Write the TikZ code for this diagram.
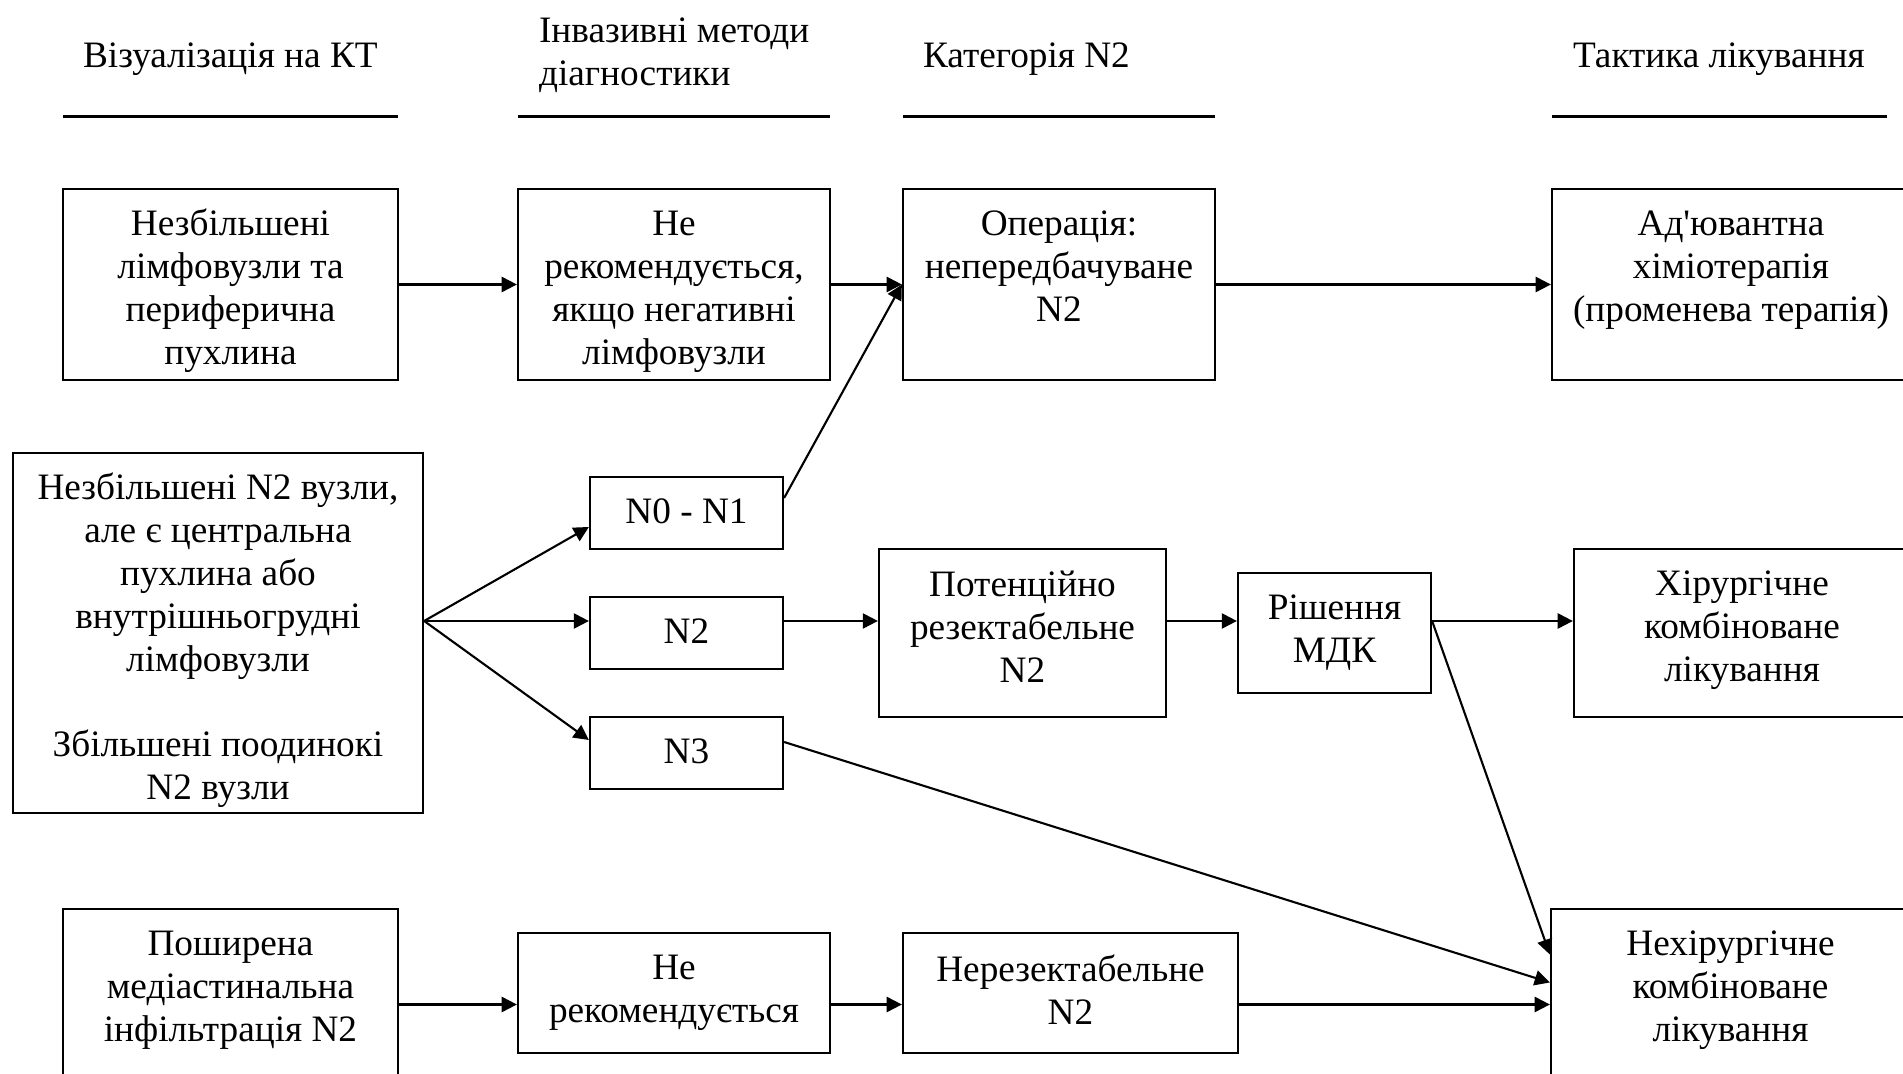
\documentclass[tikz,border=0pt]{standalone}
\usepackage{fontspec}
\setmainfont{Liberation Serif}
\usetikzlibrary{calc,arrows.meta}

\begin{document}
\begin{tikzpicture}[x=0.01cm,y=-0.01cm,line width=0.6pt,
  every node/.style={font=\fontsize{10.6}{12.2}\selectfont},
  box/.style={draw,rectangle,inner sep=0pt},
  txt/.style={align=center,anchor=north,inner sep=0pt},
  head/.style={anchor=west,inner sep=0pt},
  >={Triangle[length=4.3pt,width=4.3pt]}]
\useasboundingbox (0,0) rectangle (1903,1074);

% headings
\draw node[head] (H1) at (82,59) {Візуалізація на КТ};
\draw (63,116.5) -- (398,116.5);
\draw node[head,align=left] (H2) at (538,55.5) {Інвазивні методи\\діагностики};
\draw (518,116.5) -- (830,116.5);
\draw node[head] (H3) at (922,59) {Категорія N2};
\draw (903,116.5) -- (1215,116.5);
\draw node[head] (H4) at (1572,59) {Тактика лікування};
\draw (1552,116.5) -- (1887,116.5);

% top row
\draw node[box,minimum width=3.35cm,minimum height=1.91cm] (A1) at (230.5,284.5) {};
\draw node[txt] (A1t) at ($ (A1.north)+(0,20)$) {Незбільшені\\лімфовузли та\\периферична\\пухлина};
\draw node[box,minimum width=3.12cm,minimum height=1.91cm] (B1) at (674,284.5) {};
\draw node[txt] (B1t) at ($ (B1.north)+(0,22)$) {Не\\рекомендується,\\якщо негативні\\лімфовузли};
\draw node[box,minimum width=3.12cm,minimum height=1.91cm] (C1) at (1059,284.5) {};
\draw node[txt] (C1t) at ($ (C1.north)+(0,22)$) {Операція:\\непередбачуване\\N2};
\draw node[box,minimum width=3.58cm,minimum height=1.91cm] (D1) at (1731,284.5) {};
\draw node[txt] (D1t) at ($ (D1.north)+(0,22)$) {Ад\textquotesingle ювантна\\хіміотерапія\\(променева терапія)};

% middle row
\draw node[box,minimum width=4.10cm,minimum height=3.60cm] (A2) at (218,633) {};
\draw node[txt] (A2t) at ($ (A2.north)+(0,20)$) {Незбільшені N2 вузли,\\але є центральна\\пухлина або\\внутрішньогрудні\\лімфовузли\\[12.2pt]Збільшені поодинокі\\N2 вузли};
\draw node[box,minimum width=1.93cm,minimum height=0.72cm] (N01) at (686.5,513) {};
\draw node[txt] (N01t) at ($ (N01.north)+(0,22)$) {N0 - N1};
\draw node[box,minimum width=1.93cm,minimum height=0.72cm] (N2) at (686.5,633) {};
\draw node[txt] (N2t) at ($ (N2.north)+(0,22)$) {N2};
\draw node[box,minimum width=1.93cm,minimum height=0.72cm] (N3) at (686.5,753) {};
\draw node[txt] (N3t) at ($ (N3.north)+(0,22)$) {N3};
\draw node[box,minimum width=2.87cm,minimum height=1.68cm] (P) at (1022.5,633) {};
\draw node[txt] (Pt) at ($ (P.north)+(0,22)$) {Потенційно\\резектабельне\\N2};
\draw node[box,minimum width=1.93cm,minimum height=1.20cm] (MDK) at (1334.5,633) {};
\draw node[txt] (MDKt) at ($ (MDK.north)+(0,22)$) {Рішення\\МДК};
\draw node[box,minimum width=3.36cm,minimum height=1.68cm] (S) at (1742,633) {};
\draw node[txt] (St) at ($ (S.north)+(0,22)$) {Хірургічне\\комбіноване\\лікування};

% bottom row
\draw node[box,minimum width=3.35cm,minimum height=1.91cm] (A3) at (230.5,1004.5) {};
\draw node[txt] (A3t) at ($ (A3.north)+(0,22)$) {Поширена\\медіастинальна\\інфільтрація N2};
\draw node[box,minimum width=3.12cm,minimum height=1.20cm] (B3) at (674,993) {};
\draw node[txt] (B3t) at ($ (B3.north)+(0,22)$) {Не\\рекомендується};
\draw node[box,minimum width=3.35cm,minimum height=1.20cm] (C3) at (1070.5,993) {};
\draw node[txt] (C3t) at ($ (C3.north)+(0,22)$) {Нерезектабельне\\N2};
\draw node[box,minimum width=3.59cm,minimum height=1.91cm] (D3) at (1730.5,1004.5) {};
\draw node[txt] (D3t) at ($ (D3.north)+(0,22)$) {Нехірургічне\\комбіноване\\лікування};

% arrows
\coordinate (fan) at ($ (A2.east)-(0,12)$);
\draw[->] (A1.east) -- (B1.west);
\draw[->] (B1.east) -- (C1.west);
\draw[->] (C1.east) -- (D1.west);
\draw[->] ($ (N01.east)-(0,15)$) -- (C1.west);
\draw[->] (fan) -- ($ (N01.west)+(0,14)$);
\draw[->] (fan) -- (N2.west |- fan);
\draw[->] (fan) -- ($ (N3.west)-(0,13)$);
\draw[->] (N2.east |- fan) -- (P.west |- fan);
\draw[->] (P.east |- fan) -- (MDK.west |- fan);
\draw[->] (MDK.east |- fan) -- (S.west |- fan);
\draw[->] (MDK.east |- fan) -- ($ (D3.west)-(0,50)$);
\draw[->] ($ (N3.east)-(0,11)$) -- ($ (D3.west)-(0,22)$);
\draw[->] (A3.east) -- (B3.west |- A3.east);
\draw[->] (B3.east |- A3.east) -- (C3.west |- A3.east);
\draw[->] (C3.east |- A3.east) -- (D3.west);

\end{tikzpicture}
\end{document}
